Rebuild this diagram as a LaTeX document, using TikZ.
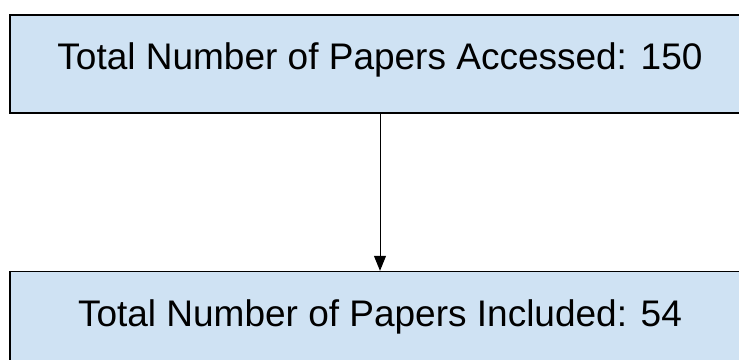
\documentclass[tikz,border=0pt]{standalone}
\usepackage{fontspec}
\setmainfont{Liberation Sans}
\usepackage{tikz}
\usetikzlibrary{positioning,arrows.meta}
\definecolor{paleblue}{HTML}{CFE2F3}
\tikzset{>={Triangle[length=15pt,width=12pt]}}
\tikzset{%
    countbox/.style={%
        draw, line width=1.6pt, fill=paleblue, rectangle,
        minimum width=740pt, inner xsep=0pt, inner ysep=28.5pt,
        text height=26.5pt, text depth=14.5pt,
        font=\fontsize{37}{44}\selectfont
    }
}

\begin{document}
\begin{tikzpicture}[x=1pt,y=1pt]
    \useasboundingbox (0,0) rectangle (739,359);

    \node[countbox] (accessed) at (380,295) {Total Number of Papers Accessed: 150};
    \node[countbox, below=157pt of accessed] (included) {Total Number of Papers Included: 54};

    \draw[->,line width=1pt] (accessed) -- (included);
\end{tikzpicture}
\end{document}
